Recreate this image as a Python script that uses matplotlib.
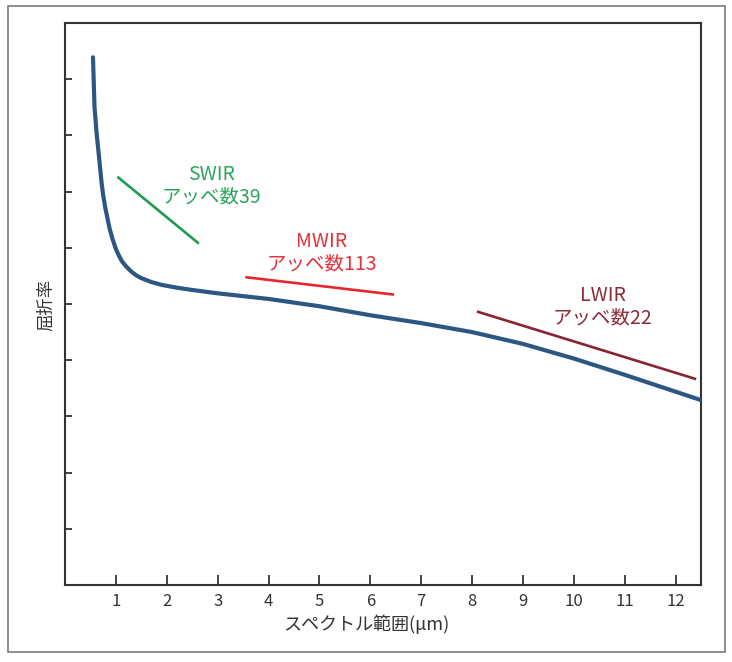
import matplotlib
matplotlib.use("Agg")
import matplotlib.pyplot as plt
from matplotlib.patches import Rectangle

plt.rcParams['font.family'] = ['Noto Sans CJK JP', 'DejaVu Sans']

# Main dispersion curve (wavelength µm, relative refractive index)
wavelength = [0.55, 0.565, 0.58, 0.60, 0.62, 0.655, 0.69, 0.72, 0.75, 0.79, 0.84,
              0.88, 0.94, 1.0, 1.06, 1.12, 1.2, 1.3, 1.4, 1.5, 1.7, 1.9, 2.2, 2.5,
              3.0, 4.0, 5.0, 6.0, 7.0, 8.0, 9.0, 10.0, 11.0, 12.0, 12.5]
index = [9.39, 8.95, 8.50, 8.28, 8.05, 7.74, 7.42, 7.15, 6.94, 6.72, 6.50,
         6.33, 6.14, 5.98, 5.86, 5.76, 5.67, 5.58, 5.51, 5.46, 5.39, 5.34, 5.29, 5.25,
         5.19, 5.09, 4.96, 4.80, 4.66, 4.50, 4.29, 4.03, 3.74, 3.44, 3.29]

# Band segments
swir_x = [1.05, 2.61]
swir_y = [7.25, 6.09]
mwir_x = [3.57, 6.44]
mwir_y = [5.475, 5.17]
lwir_x = [8.12, 12.38]
lwir_y = [4.86, 3.67]

band_labels = ["SWIR\nアッベ数39", "MWIR\nアッベ数113", "LWIR\nアッベ数22"]
label_pos = [(2.87, 7.10), (5.05, 5.91), (10.57, 4.95)]

x_ticks = list(range(1, 13))
y_ticks = list(range(1, 10))

fig = plt.figure(figsize=(7.32, 6.62), dpi=100)
ax = fig.add_axes([65/732, 1-585/662, (701-65)/732, (585-23)/662])

ax.plot(wavelength, index, color='#2c5782', lw=3.0, solid_capstyle='round',
        solid_joinstyle='round', zorder=3)
c_sw, c_mw, c_lw = '#1f9a52', '#e6262e', '#8a2331'
ax.plot(swir_x, swir_y, color=c_sw, lw=1.9)
ax.plot(mwir_x, mwir_y, color=c_mw, lw=1.9)
ax.plot(lwir_x, lwir_y, color=c_lw, lw=1.9)

for lab, (px, py), col in zip(band_labels, label_pos, ['#2aa55c', '#e8303a', '#8b2a3a']):
    ax.text(px, py, lab, color=col, fontsize=14, ha='center', va='center',
            linespacing=1.08)

ax.set_xlim(0, 12.5)
ax.set_ylim(0, 10)
ax.set_xticks(x_ticks)
ax.set_xticklabels([str(t) for t in x_ticks])
ax.set_yticks(y_ticks)
ax.set_yticklabels([])
ax.tick_params(axis='x', direction='in', length=7, width=1.3, colors='#333333',
               labelsize=12, pad=6)
ax.tick_params(axis='y', direction='in', length=5, width=1.3, colors='#333333')
for s in ax.spines.values():
    s.set_color('#333333')
    s.set_linewidth(1.5)

fig.text(366/732, 1-624/662, "スペクトル範囲(μm)", ha='center', va='center',
         fontsize=13, color='#333333')
fig.text(46/732, 1-305/662, "屈折率", ha='center', va='center', rotation=90,
         fontsize=12.5, color='#333333')

fig.patches.append(Rectangle((8/732, 1-652/662), (725-8)/732, (652-6)/662,
                             transform=fig.transFigure, fill=False,
                             edgecolor='#7a7a7a', lw=1.2))

fig.savefig("out.png", dpi=100)
